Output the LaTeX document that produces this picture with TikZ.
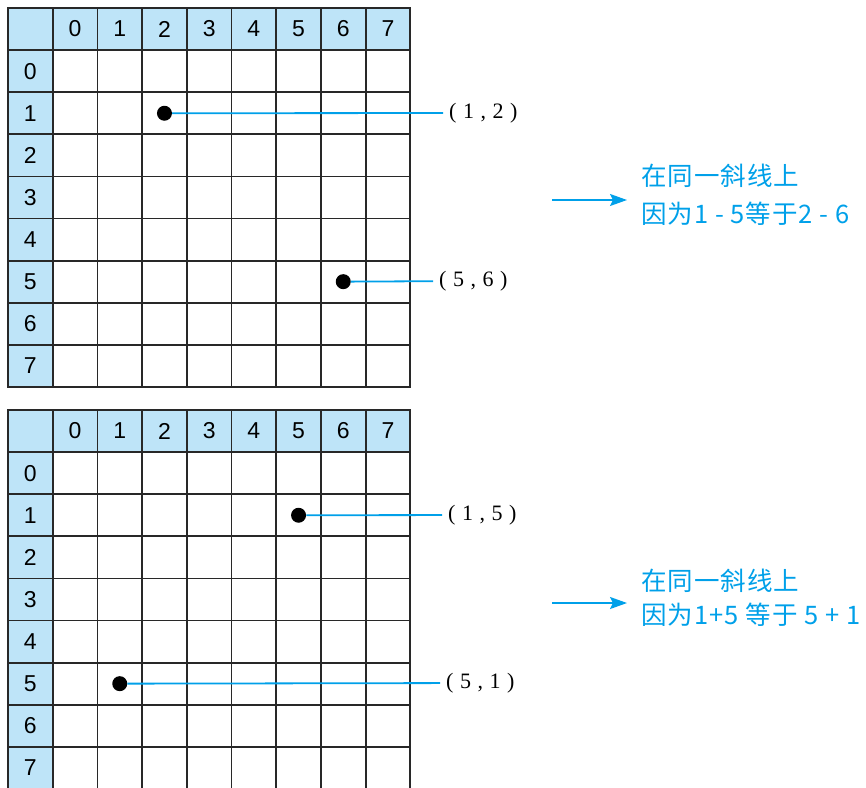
\documentclass[tikz,border=0pt]{standalone}
\usepackage{fontspec}
\setmainfont{Liberation Serif}
\setsansfont{Liberation Sans}
\newfontfamily\cjkfont[LetterSpace=4]{Noto Sans CJK SC}
\usetikzlibrary{arrows.meta,positioning}

\definecolor{headblue}{RGB}{190,228,248}
\definecolor{gridgray}{RGB}{40,40,40}
\definecolor{noteblue}{RGB}{0,160,233}
\newcommand{\cellpair}[2]{(\hspace{6.5pt}#1\hspace{6.5pt},\hspace{6.5pt}#2\hspace{6.5pt})}

\begin{document}
\begin{tikzpicture}[
    x=1pt,
    y=-1pt,
    cell/.style={
        rectangle,
        draw=gridgray,
        line width=1.8pt,
        fill=white,
        minimum width=44.7pt,
        minimum height=42.1pt,
        inner sep=0pt
    },
    head/.style={
        cell,
        fill=headblue,
        font=\sffamily\fontsize{23}{23}\selectfont
    },
    dot/.style={
        circle,
        fill=black,
        minimum size=15pt,
        inner sep=0pt
    },
    pair/.style={
        anchor=west,
        inner sep=6pt,
        font=\fontsize{22}{22}\selectfont
    },
    link/.style={
        draw=noteblue,
        line width=1.8pt
    },
    note/.style={
        anchor=base west,
        inner sep=0pt,
        text=noteblue,
        font=\cjkfont\fontsize{25.5}{25.5}\selectfont
    },
    pointer/.style={
        -{Stealth[length=17pt,width=12pt,inset=3pt]},
        draw=noteblue,
        line width=1.8pt,
        shorten >=14pt
    }
]
\useasboundingbox (0,0) rectangle (866,787);

% Grids
\foreach \g/\gy in {a/8, b/410} {
  \node[head] (\g-corner) at (30.35, \gy+21.05) {};
  \foreach \i in {0,...,7} {
    \node[head] (\g-col\i) at ({30.35+44.7*(\i+1)}, \gy+21.05) {\i};
    \node[head] (\g-row\i) at (30.35, {\gy+21.05+42.1*(\i+1)}) {\i};
    \foreach \j in {0,...,7}
      \node[cell] (\g-\i-\j) at ({30.35+44.7*(\j+1)}, {\gy+21.05+42.1*(\i+1)}) {};
  }
}

% Dots
\node[dot] (a-dot1) at (a-1-2) {};
\node[dot] (a-dot2) at (a-5-6) {};
\node[dot] (b-dot1) at (b-1-5) {};
\node[dot] (b-dot2) at (b-5-1) {};

% Pair labels
\node[pair] (a-pair1) at (443, 113) {\cellpair{1}{2}};
\node[pair] (a-pair2) at (433, 281) {\cellpair{5}{6}};
\node[pair] (b-pair1) at (442, 515) {\cellpair{1}{5}};
\node[pair] (b-pair2) at (440, 683) {\cellpair{5}{1}};

\draw[link] (a-dot1) -- (a-pair1);
\draw[link] (a-dot2) -- (a-pair2);
\draw[link] (b-dot1) -- (b-pair1);
\draw[link] (b-dot2) -- (b-pair2);

% Notes
\node[note] (a-note1) at (641, 185) {在同一斜线上};
\node[note] (a-note2) at (641, 223) {因为1 - 5等于2 - 6};
\node[note] (b-note1) at (641, 590) {在同一斜线上};
\node[note] (b-note2) at (641, 624) {因为1+5 等于 5 + 1};

\coordinate (a-tail) at (552, 200);
\coordinate (b-tail) at (552, 603);
\draw[pointer] (a-tail) -- (a-tail -| a-note2.west);
\draw[pointer] (b-tail) -- (b-tail -| b-note2.west);

\end{tikzpicture}
\end{document}
